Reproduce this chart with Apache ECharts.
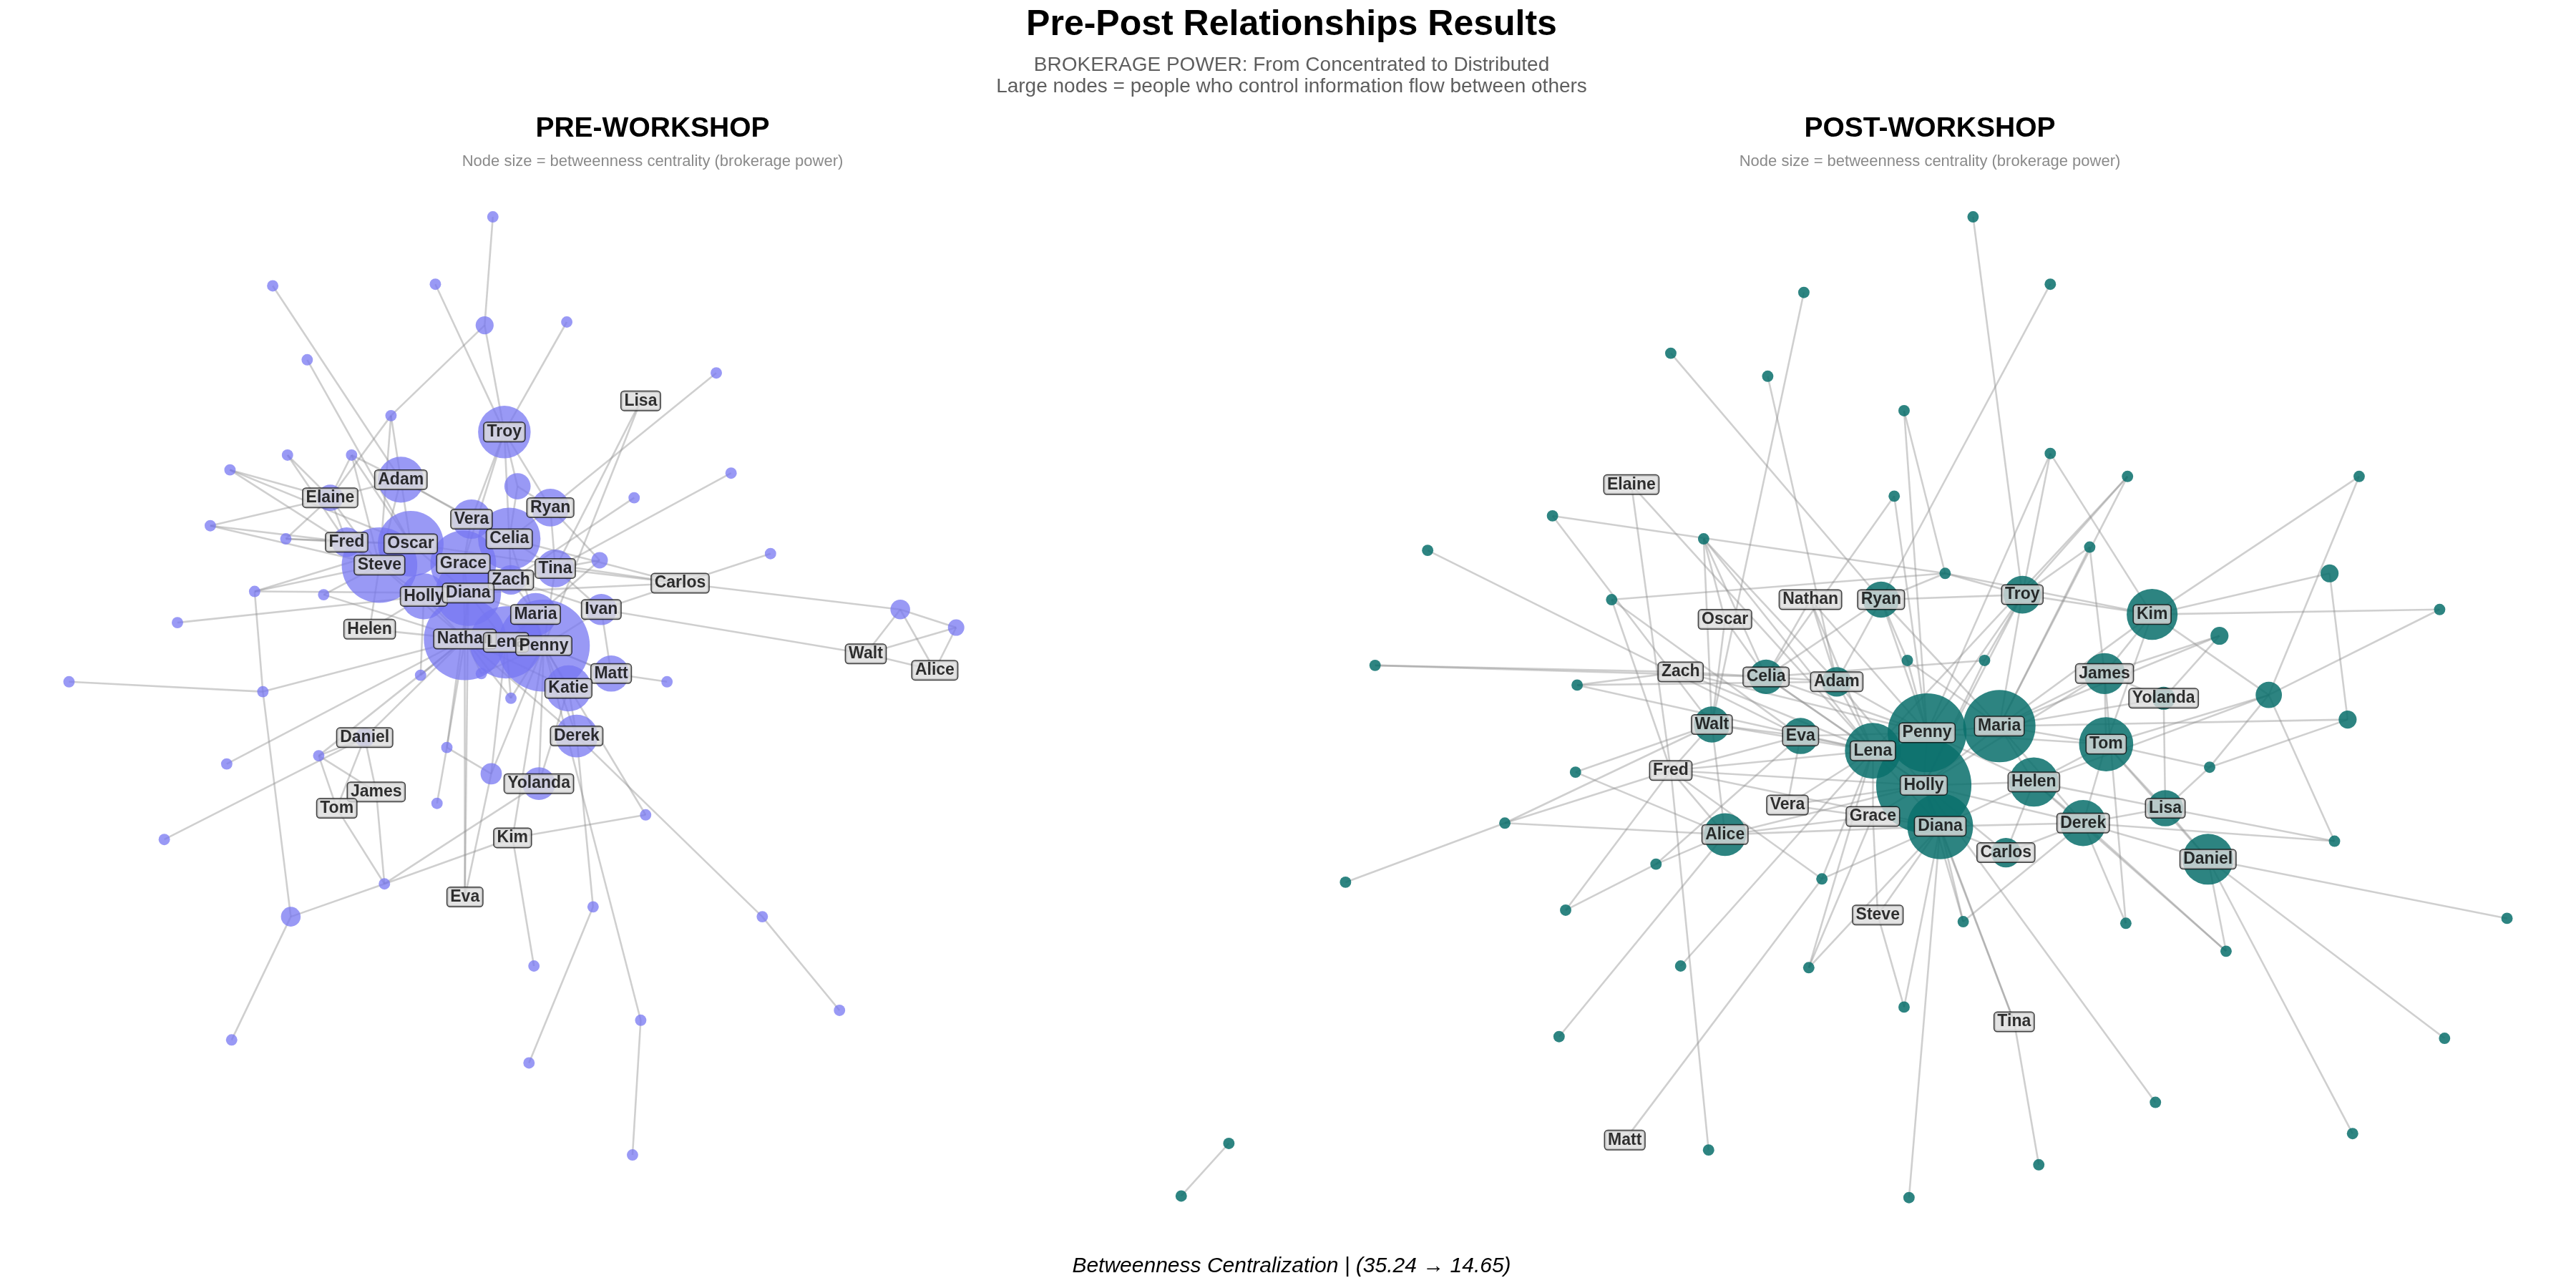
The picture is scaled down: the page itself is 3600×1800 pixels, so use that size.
<!DOCTYPE html>
<html>
<head>
<meta charset="utf-8">
<script src="https://cdn.jsdelivr.net/npm/echarts@6/dist/echarts.min.js"></script>
<style>
  html, body { margin: 0; padding: 0; background: #fff; }
  #main { width: 3600px; height: 1800px; }
</style>
</head>
<body>
<div id="main"></div>
<script>
// layout coordinates (units: 1568 x 784 view)
// betweenness: estimated brokerage score, drawn as node area (0 = label only)

const preNames = ['Troy','Lisa','Adam','Elaine','Ryan','Vera','Celia','Fred','Oscar','Steve','Grace','Tina','Carlos','Zach','Holly','Diana','Ivan','Maria','Helen','Nathan','Lena','Penny','Walt','Alice','Matt','Katie','Derek','Daniel','James','Tom','Yolanda','Kim','Eva',
  'p01','p02','p03','p04','p05','p06','p07','p08','p09','p10','p11','p12','p13','p14','p15','p16','p17','p18','p19','p20','p21','p22','p23','p24','p25','p26','p27','p28','p29','p30','p31','p32','p33','p34','p35','p36','p37','p38','p39','p40','p41','p42','p43','p44','p45','p46'];
const preX = [307,390,244,201,335,287,310,211,250,231,282,338,414,311,258,285,366,326,225,283,308,331,527,569,372,346,351,222,229,205,328,312,283,
  300,295,265,345,166,187,238,214,175,140,128,174,155,197,108,42,160,436,445,386,469,365,315,548,582,406,256,293,311,272,266,299,194,138,100,393,234,177,141,361,322,390,385,464,511,325];
const preY = [263,244,292,303,309,316,328,330,331,344,343,346,355,353,363,361,371,374,383,389,391,393,398,408,410,419,448,449,482,492,477,510,546,
  132,198,173,196,174,219,253,277,277,286,320,328,360,362,379,415,421,227,288,303,337,341,296,371,382,415,411,410,425,455,489,471,460,465,511,496,538,558,633,552,647,621,703,558,615,588];
const preBetweenness = [256,0,196,64,132,144,361,81,400,529,400,132,0,81,196,400,90,169,0,625,484,784,0,0,121,196,169,36,0,0,100,0,0,
  12,30,12,12,12,12,12,12,12,12,12,12,12,12,12,12,12,12,12,12,12,25,64,36,25,12,12,12,12,12,12,42,12,12,12,12,12,36,12,12,12,12,12,12,12,12];
const preEdges = [
  ['p01','p02'],['p02','Troy'],['p02','p07'],['p03','Troy'],['p04','Troy'],['p05','Adam'],['p06','Oscar'],
  ['p07','Elaine'],['p07','Adam'],['p07','Steve'],['p08','Elaine'],['p08','Steve'],['p08','Oscar'],['p08','Adam'],
  ['p09','Elaine'],['p09','Fred'],['p10','Oscar'],['p10','Elaine'],['p10','Steve'],['p11','Fred'],['p11','Steve'],['p11','Elaine'],
  ['p12','Fred'],['p12','Oscar'],['p12','Elaine'],['p13','Steve'],['p13','Oscar'],['p13','p17'],['p13','Diana'],
  ['p14','Steve'],['p14','Nathan'],['p15','Holly'],['p16','p17'],['p17','Nathan'],['p17','p38'],
  ['p18','Ryan'],['p19','Tina'],['p20','Zach'],['p21','Carlos'],['p22','Tina'],['p22','Ryan'],['p22','Lena'],
  ['Lisa','Tina'],['Lisa','Penny'],['Carlos','p24'],['Carlos','Tina'],['Carlos','Ivan'],['Carlos','Celia'],['Carlos','Oscar'],['Carlos','Diana'],
  ['p24','p25'],['p24','Walt'],['p24','Alice'],['p25','Walt'],['p25','Alice'],['Walt','Alice'],['Walt','Ivan'],
  ['Ivan','Matt'],['Ivan','Penny'],['Ivan','Zach'],['Matt','p26'],['Matt','Penny'],
  ['p23','Ryan'],['p23','Celia'],['p23','Troy'],['p27','Nathan'],['p27','Holly'],['p28','Nathan'],['p28','Penny'],
  ['p29','Penny'],['p29','Nathan'],['p29','Lena'],['p30','Diana'],['p30','Nathan'],['p30','p31'],['p30','p32'],
  ['p32','Lena'],['p32','Eva'],['p32','Penny'],['p33','Daniel'],['p33','James'],['p33','Tom'],['p33','Nathan'],
  ['p34','Nathan'],['p35','Daniel'],['Daniel','Nathan'],['Daniel','James'],['Daniel','Tom'],['James','p37'],['Tom','p37'],
  ['p37','Kim'],['p37','p38'],['p37','Yolanda'],['p38','p39'],['Kim','p36'],['Kim','Penny'],['Kim','p46'],['p36','Penny'],
  ['Eva','Nathan'],['Eva','Diana'],['Yolanda','Penny'],['Yolanda','Katie'],
  ['Derek','Penny'],['Derek','Katie'],['Derek','p40'],['Derek','p44'],['Derek','Nathan'],['p40','p41'],['p42','p43'],['p42','Penny'],['p44','p45'],
  ['Troy','Celia'],['Troy','Vera'],['Troy','Ryan'],['Troy','Grace'],
  ['Adam','Elaine'],['Adam','Oscar'],['Adam','Celia'],['Adam','Steve'],['Adam','Vera'],
  ['Elaine','Fred'],['Elaine','Steve'],['Fred','Steve'],['Fred','Oscar'],
  ['Oscar','Steve'],['Oscar','Grace'],['Oscar','Diana'],['Steve','Holly'],['Steve','Nathan'],['Steve','Helen'],
  ['Helen','Nathan'],['Helen','Holly'],['Vera','Celia'],['Vera','Grace'],
  ['Celia','Ryan'],['Celia','Tina'],['Celia','Zach'],['Celia','Penny'],['Ryan','Tina'],
  ['Grace','Diana'],['Grace','Zach'],['Grace','Nathan'],['Zach','Tina'],['Zach','Maria'],['Zach','Diana'],
  ['Holly','Diana'],['Holly','Nathan'],['Diana','Nathan'],['Diana','Lena'],['Diana','Maria'],
  ['Maria','Penny'],['Maria','Lena'],['Nathan','Lena'],['Nathan','Penny'],['Nathan','Katie'],['Lena','Penny'],
  ['Penny','Katie'],['Penny','Tina'],['Penny','Matt'],['Katie','Matt'],['Tina','Ivan']
];

const postNames = ['Elaine','Nathan','Ryan','Troy','Kim','Oscar','Zach','Celia','Adam','James','Yolanda','Walt','Eva','Penny','Maria','Lena','Tom','Fred','Helen','Holly','Vera','Grace','Diana','Derek','Lisa','Alice','Carlos','Daniel','Steve','Tina','Matt',
  'q01','q02','q03','q04','q05','q06','q07','q08','q09','q10','q11','q12','q13','q14','q15','q16','q17','q18','q19','q20','q21','q22','q23','q24','q25','q26','q27','q28','q29','q30','q31','q32','q33','q34','q35','q36','q37','q38','q39','q40','q41','q42','q43','q44','q45','q46','q47','q48','q49'];
const postX = [993,1102,1145,1231,1310,1050,1023,1075,1118,1281,1317,1042,1096,1173,1217,1140,1282,1017,1238,1171,1088,1140,1181,1268,1318,1050,1221,1344,1143,1226,989,
  1201,1098,1248,1017,1076,1159,1248,1295,1436,1153,945,869,1037,1272,1184,981,1418,1485,1351,837,960,1161,1208,1381,1429,1345,959,916,1008,819,953,1109,1421,1195,1294,1355,1526,1023,1101,1159,949,1488,1312,1040,1432,1241,1162,748,719];
const postY = [295,365,365,362,374,377,409,412,415,410,425,441,448,446,442,457,453,469,476,478,490,497,503,501,492,508,519,523,557,622,694,
  132,178,173,215,229,250,276,290,290,302,314,335,328,333,349,365,349,371,387,405,417,402,402,423,438,467,470,501,526,537,554,535,512,561,562,579,559,588,589,613,631,632,671,700,690,709,729,696,728];
const postBetweenness = [0,0,121,132,240,0,0,110,81,156,49,121,121,576,484,289,272,0,225,841,0,0,400,196,121,169,81,240,0,0,0,
  12,12,12,12,12,12,12,12,12,12,12,12,12,12,12,12,30,12,30,12,12,12,12,64,30,12,12,12,12,12,12,12,12,12,12,12,12,12,12,12,12,12,12,12,12,12,12,12,12];
const postEdges = [
  ['q01','Troy'],['q02','Walt'],['q03','Ryan'],['q04','Ryan'],['q05','Adam'],['q06','q15'],['q06','Penny'],
  ['q07','Troy'],['q07','Kim'],['q07','Penny'],['q08','Troy'],['q08','Maria'],['q08','Lena'],['q09','Kim'],['q09','q24'],
  ['q10','Celia'],['q10','Penny'],['q11','q15'],['q11','Walt'],['q12','Eva'],
  ['q13','Oscar'],['q13','Celia'],['q13','Adam'],['q13','Walt'],['q13','Lena'],['q14','James'],['q14','Troy'],['q14','Maria'],
  ['q15','Troy'],['q15','Kim'],['q15','Ryan'],['q16','q15'],['q16','Fred'],['q16','Eva'],
  ['q17','Kim'],['q17','q25'],['q18','Kim'],['q18','q24'],['q19','James'],['q19','Yolanda'],['q19','Maria'],
  ['q20','Zach'],['q20','Celia'],['q21','Zach'],['q21','Lena'],['q21','Adam'],['q22','Ryan'],['q22','Penny'],['q22','Maria'],
  ['q23','Troy'],['q23','Holly'],['q23','Celia'],['q24','Kim'],['q24','Tom'],['q24','Helen'],['q24','q26'],['q24','q33'],
  ['q25','Maria'],['q25','q26'],['q26','Tom'],['q26','Lisa'],['q27','Walt'],['q27','Alice'],
  ['q28','q30'],['q28','Alice'],['q28','Fred'],['q28','Walt'],['q29','Alice'],['q29','q31'],['q29','Eva'],['q31','Fred'],
  ['q32','Fred'],['q32','Lena'],['q32','Diana'],['q32','Matt'],['q33','Lisa'],['q33','Derek'],
  ['q34','Diana'],['q34','Derek'],['q34','Holly'],['q35','James'],['q35','Derek'],['q36','Daniel'],['q36','Derek'],['q36','Helen'],
  ['q37','Daniel'],['q38','Lena'],['q39','Grace'],['q39','Lena'],['q39','Diana'],['q40','Steve'],['q40','Diana'],
  ['q41','Alice'],['q42','Daniel'],['q43','Holly'],['q44','Fred'],['q45','Daniel'],['q46','Tina'],['q47','Diana'],['q48','q49'],
  ['Tina','Diana'],['Tina','Holly'],['Steve','Grace'],['Steve','Diana'],['Elaine','Fred'],['Elaine','Lena'],
  ['Nathan','Adam'],['Nathan','Celia'],['Nathan','Penny'],['Nathan','Lena'],['Oscar','Celia'],['Oscar','Walt'],
  ['Zach','Celia'],['Zach','Penny'],['Zach','Lena'],['Walt','Fred'],['Walt','Alice'],['Walt','Eva'],['Walt','Lena'],
  ['Fred','Eva'],['Fred','Alice'],['Fred','Lena'],['Fred','Holly'],['Fred','Diana'],
  ['Vera','Eva'],['Vera','Lena'],['Vera','Diana'],['Vera','Holly'],['Grace','Holly'],['Grace','Lena'],['Grace','Alice'],
  ['Alice','Diana'],['Alice','Holly'],['Celia','Ryan'],['Celia','Lena'],['Celia','Penny'],['Celia','Adam'],['Celia','Holly'],
  ['Adam','Penny'],['Adam','Lena'],['Adam','Ryan'],['Adam','Holly'],['Ryan','Penny'],['Ryan','Troy'],['Ryan','Maria'],
  ['Troy','Kim'],['Troy','Penny'],['Troy','Maria'],['Troy','Holly'],['Kim','James'],['Kim','Maria'],['Kim','Tom'],
  ['James','Maria'],['James','Tom'],['James','Yolanda'],['James','Holly'],['Yolanda','Maria'],['Yolanda','Lisa'],
  ['Eva','Lena'],['Eva','Penny'],['Penny','Maria'],['Penny','Lena'],['Penny','Holly'],['Penny','Helen'],['Penny','Tom'],
  ['Lena','Holly'],['Lena','Diana'],['Maria','Holly'],['Maria','Helen'],['Maria','Tom'],['Maria','Derek'],
  ['Holly','Diana'],['Holly','Helen'],['Holly','Derek'],['Holly','Carlos'],['Diana','Carlos'],['Diana','Derek'],['Diana','Helen'],
  ['Helen','Derek'],['Helen','Lisa'],['Helen','Tom'],['Tom','Lisa'],['Tom','Derek'],['Tom','Daniel'],
  ['Derek','Lisa'],['Derek','Daniel'],['Derek','Carlos'],['Lisa','Daniel'],['Carlos','Helen']
];

const VIEW_W = 1568, VIEW_H = 784;
const PX = 3600 / VIEW_W;

const chart = echarts.init(document.getElementById('main'), null, { width: 3600, height: 1800 });

function isPerson(name) {
  return /^[A-Z]/.test(name);
}

function buildNodes(names, xs, ys, bt) {
  const nodes = names.map(function (n, i) {
    return {
      name: n,
      value: [xs[i], ys[i]],
      symbolSize: bt[i] > 0 ? Math.sqrt(bt[i]) * 2 * PX : 0,
      bt: bt[i]
    };
  });
  // big nodes first so smaller ones sit on top
  nodes.sort(function (a, b) { return b.bt - a.bt; });
  return nodes;
}

function buildLabels(names, xs, ys) {
  const out = [];
  names.forEach(function (n, i) {
    if (isPerson(n)) out.push({ name: n, value: [xs[i], ys[i]] });
  });
  return out;
}

function graphSeries(names, xs, ys, bt, edges, color, opacity) {
  return {
    type: 'graph',
    layout: 'none',
    coordinateSystem: 'cartesian2d',
    xAxisIndex: 0,
    yAxisIndex: 0,
    silent: true,
    symbol: 'circle',
    data: buildNodes(names, xs, ys, bt),
    links: edges.map(function (e) { return { source: e[0], target: e[1] }; }),
    itemStyle: { color: color, opacity: opacity },
    lineStyle: { color: '#8c8c8c', opacity: 0.42, width: 2.6, curveness: 0 },
    label: { show: false },
    emphasis: { disabled: true }
  };
}

const font = 'Liberation Sans, Arial, sans-serif';

const labelStyle = {
  show: true,
  position: 'inside',
  formatter: function (p) { return p.name; },
  fontFamily: font,
  fontWeight: 'bold',
  fontSize: 23,
  color: '#000',
  backgroundColor: '#dcdcdc',
  borderColor: '#111',
  borderWidth: 1.5,
  borderRadius: 4,
  padding: [2, 4, 1, 4]
};

function labelSeries(names, xs, ys) {
  return {
    type: 'scatter',
    xAxisIndex: 0,
    yAxisIndex: 0,
    silent: true,
    z: 10,
    symbolSize: 0,
    data: buildLabels(names, xs, ys),
    label: labelStyle,
    emphasis: { disabled: true }
  };
}

const option = {
  backgroundColor: '#ffffff',
  animation: false,
  title: [
    { text: 'Pre-Post Relationships Results', left: 1800, top: 5, textAlign: 'center',
      textStyle: { fontFamily: font, fontSize: 50, fontWeight: 'bold', color: '#000' } },
    { text: 'BROKERAGE POWER: From Concentrated to Distributed', left: 1800, top: 72, textAlign: 'center',
      textStyle: { fontFamily: font, fontSize: 28, fontWeight: 'normal', color: '#5e5e5e' } },
    { text: 'Large nodes = people who control information flow between others', left: 1800, top: 102, textAlign: 'center',
      textStyle: { fontFamily: font, fontSize: 28, fontWeight: 'normal', color: '#5e5e5e' } },
    { text: 'PRE-WORKSHOP', left: 907, top: 156, textAlign: 'center',
      textStyle: { fontFamily: font, fontSize: 39, fontWeight: 'bold', color: '#000' } },
    { text: 'Node size = betweenness centrality (brokerage power)', left: 907, top: 210, textAlign: 'center',
      textStyle: { fontFamily: font, fontSize: 22, fontWeight: 'normal', color: '#8a8a8a' } },
    { text: 'POST-WORKSHOP', left: 2692, top: 156, textAlign: 'center',
      textStyle: { fontFamily: font, fontSize: 39, fontWeight: 'bold', color: '#000' } },
    { text: 'Node size = betweenness centrality (brokerage power)', left: 2692, top: 210, textAlign: 'center',
      textStyle: { fontFamily: font, fontSize: 22, fontWeight: 'normal', color: '#8a8a8a' } },
    { text: 'Betweenness Centralization | (35.24 \u2192 14.65)', left: 1800, top: 1750, textAlign: 'center',
      textStyle: { fontFamily: font, fontSize: 30, fontWeight: 'normal', fontStyle: 'italic', color: '#000' } }
  ],
  grid: { left: 0, right: 0, top: 0, bottom: 0 },
  xAxis: { type: 'value', min: 0, max: VIEW_W, show: false },
  yAxis: { type: 'value', min: 0, max: VIEW_H, inverse: true, show: false },
  series: [
    graphSeries(preNames, preX, preY, preBetweenness, preEdges, '#7575f2', 0.74),
    graphSeries(postNames, postX, postY, postBetweenness, postEdges, '#0a706c', 0.86),
    labelSeries(preNames, preX, preY),
    labelSeries(postNames, postX, postY)
  ]
};

chart.setOption(option);
</script>
</body>
</html>
